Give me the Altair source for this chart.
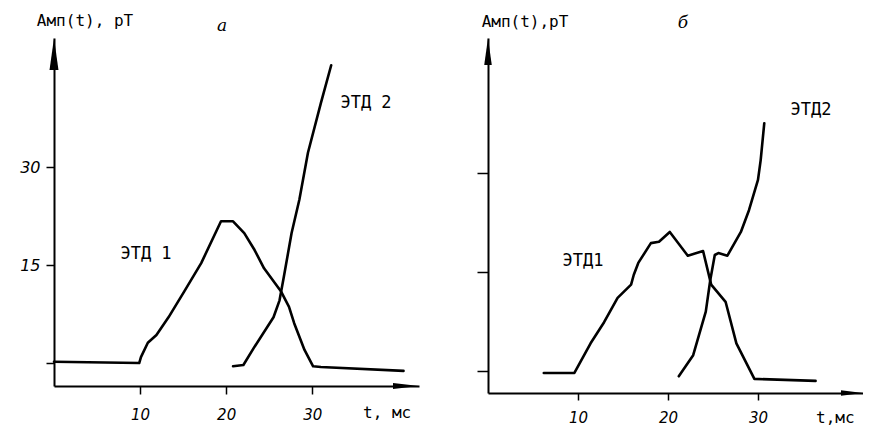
import altair as alt
import pandas as pd

# ---------------- data ----------------
# panel а
a1_t = [0, 9.9, 10.1, 10.9, 11.9, 13.3, 15.1, 17.1, 19.4, 20.8, 22.1, 23.3, 24.4, 26.4, 27.3, 27.9, 29.1, 30.1, 31.0, 40.6]
a1_A = [0.2, 0.0, 0.9, 3.1, 4.3, 7.0, 10.9, 15.3, 21.7, 21.7, 19.9, 17.3, 14.5, 10.9, 8.6, 6.1, 2.0, -0.5, -0.6, -1.2]
a2_t = [20.8, 22.0, 23.3, 25.5, 26.2, 26.7, 27.6, 28.5, 29.5, 31.0, 32.2]
a2_A = [-0.5, -0.3, 2.5, 7.0, 9.6, 13.2, 19.9, 25.0, 32.2, 39.8, 45.6]
# panel б
b1_t = [6.2, 9.6, 11.4, 12.9, 14.4, 15.9, 16.2, 16.7, 18.1, 19.0, 20.2, 22.2, 23.9, 24.8, 26.4, 27.6, 29.6, 36.4]
b1_A = [-0.3, -0.3, 4.2, 7.4, 11.1, 13.1, 14.6, 16.4, 19.4, 19.6, 21.1, 17.5, 18.2, 13.1, 10.5, 4.2, -1.2, -1.5]
b2_t = [21.2, 22.8, 24.2, 24.7, 25.2, 25.6, 26.6, 28.1, 29.0, 30.0, 30.3, 30.7]
b2_A = [-0.8, 2.4, 9.0, 13.8, 17.6, 17.9, 17.5, 21.1, 24.4, 29.0, 32.0, 37.6]

x_ticks = [10, 20, 30]
y_ticks = [0, 15, 30]

df_a = pd.concat([
    pd.DataFrame({"t": a1_t, "A": a1_A, "curve": "ЭТД 1"}),
    pd.DataFrame({"t": a2_t, "A": a2_A, "curve": "ЭТД 2"}),
])
df_b = pd.concat([
    pd.DataFrame({"t": b1_t, "A": b1_A, "curve": "ЭТД1"}),
    pd.DataFrame({"t": b2_t, "A": b2_A, "curve": "ЭТД2"}),
])
one = pd.DataFrame({"k": [0]})

TXT_FONT = "DejaVu Sans Mono"
NUM_FONT = "DejaVu Sans"
UP_ARROW = "M0,0L0.14,1L-0.14,1Z"
RIGHT_ARROW = "M0,0L-1,-0.12L-1,0.12Z"


def text(label, x, y, size=16, italic=False, align="center"):
    return alt.Chart(one).mark_text(
        text=label, font=TXT_FONT if not italic else "DejaVu Serif",
        fontSize=size, fontStyle="italic" if italic else "normal",
        align=align, baseline="middle", color="black",
    ).encode(x=alt.value(x), y=alt.value(y))


def arrow(path, size, x, y):
    return alt.Chart(one).mark_point(
        shape=path, size=size, filled=True, color="black", opacity=1, strokeWidth=0
    ).encode(x=alt.value(x), y=alt.value(y))


def panel(df, W, H, xdom, ydom, tick_y, tick_x, ylabels, xpad, ypad,
          ytitle, plabel, xtitle, lab1, lab2, pos, yarrow, xarrow):
    x_axis = alt.Axis(values=x_ticks, grid=False, title=None, domainColor="black",
                      domainWidth=2, tickColor="black", tickWidth=1.5, tickSize=tick_x,
                      labelFont=NUM_FONT, labelFontStyle="italic", labelFontSize=15,
                      labelColor="black", labelPadding=xpad)
    y_axis = alt.Axis(values=y_ticks, grid=False, title=None, domainColor="black",
                      domainWidth=2, tickColor="black", tickWidth=1.5, tickSize=tick_y,
                      labels=ylabels, labelExpr="datum.value == 0 ? '' : datum.label",
                      labelFont=NUM_FONT, labelFontStyle="italic", labelFontSize=16,
                      labelColor="black", labelPadding=ypad)
    lines = alt.Chart(df).mark_line(
        color="black", strokeWidth=2.6, strokeJoin="round", strokeCap="round"
    ).encode(
        x=alt.X("t:Q", scale=alt.Scale(domain=xdom, nice=False, zero=False), axis=x_axis),
        y=alt.Y("A:Q", scale=alt.Scale(domain=ydom, nice=False, zero=False), axis=y_axis),
        detail="curve:N",
    )
    layers = [
        lines,
        text(lab1, *pos["l1"], size=17),
        text(lab2, *pos["l2"], size=17),
        text(ytitle, *pos["yt"]),
        text(plabel, *pos["pl"], size=17, italic=True),
        text(xtitle, *pos["xt"], align="left"),
        arrow(UP_ARROW, yarrow, 0, 0),
        arrow(RIGHT_ARROW, xarrow, W, H),
    ]
    return alt.layer(*layers).properties(width=W, height=H)


panel_a = panel(
    df_a, 365, 348, [0, 42.4], [-3.52, 49.77], 8, 8, True, 13, 6,
    "Амп(t), pT", "а", "t, мс", "ЭТД 1", "ЭТД 2",
    {"l1": (92, 216), "l2": (312, 65), "yt": (31, -17), "pl": (168, -12), "xt": (309, 375)},
    64 * 64, 52 * 52,
)
panel_b = panel(
    df_b, 375, 355, [0, 41.67], [-3.34, 50.53], 11, 7, False, 10, 6,
    "Амп(t),pT", "б", "t,мс", "ЭТД1", "ЭТД2",
    {"l1": (95, 223), "l2": (323, 72), "yt": (37, -16), "pl": (195, -15), "xt": (328, 380)},
    54 * 54, 44 * 44,
)

chart = alt.hconcat(panel_a, panel_b, spacing=69, bounds="flush").properties(
    padding={"left": 11, "top": 5, "right": 0, "bottom": 0}
).configure_view(stroke=None)

chart.save("out.html", embed_options={"renderer": "svg", "actions": False})
